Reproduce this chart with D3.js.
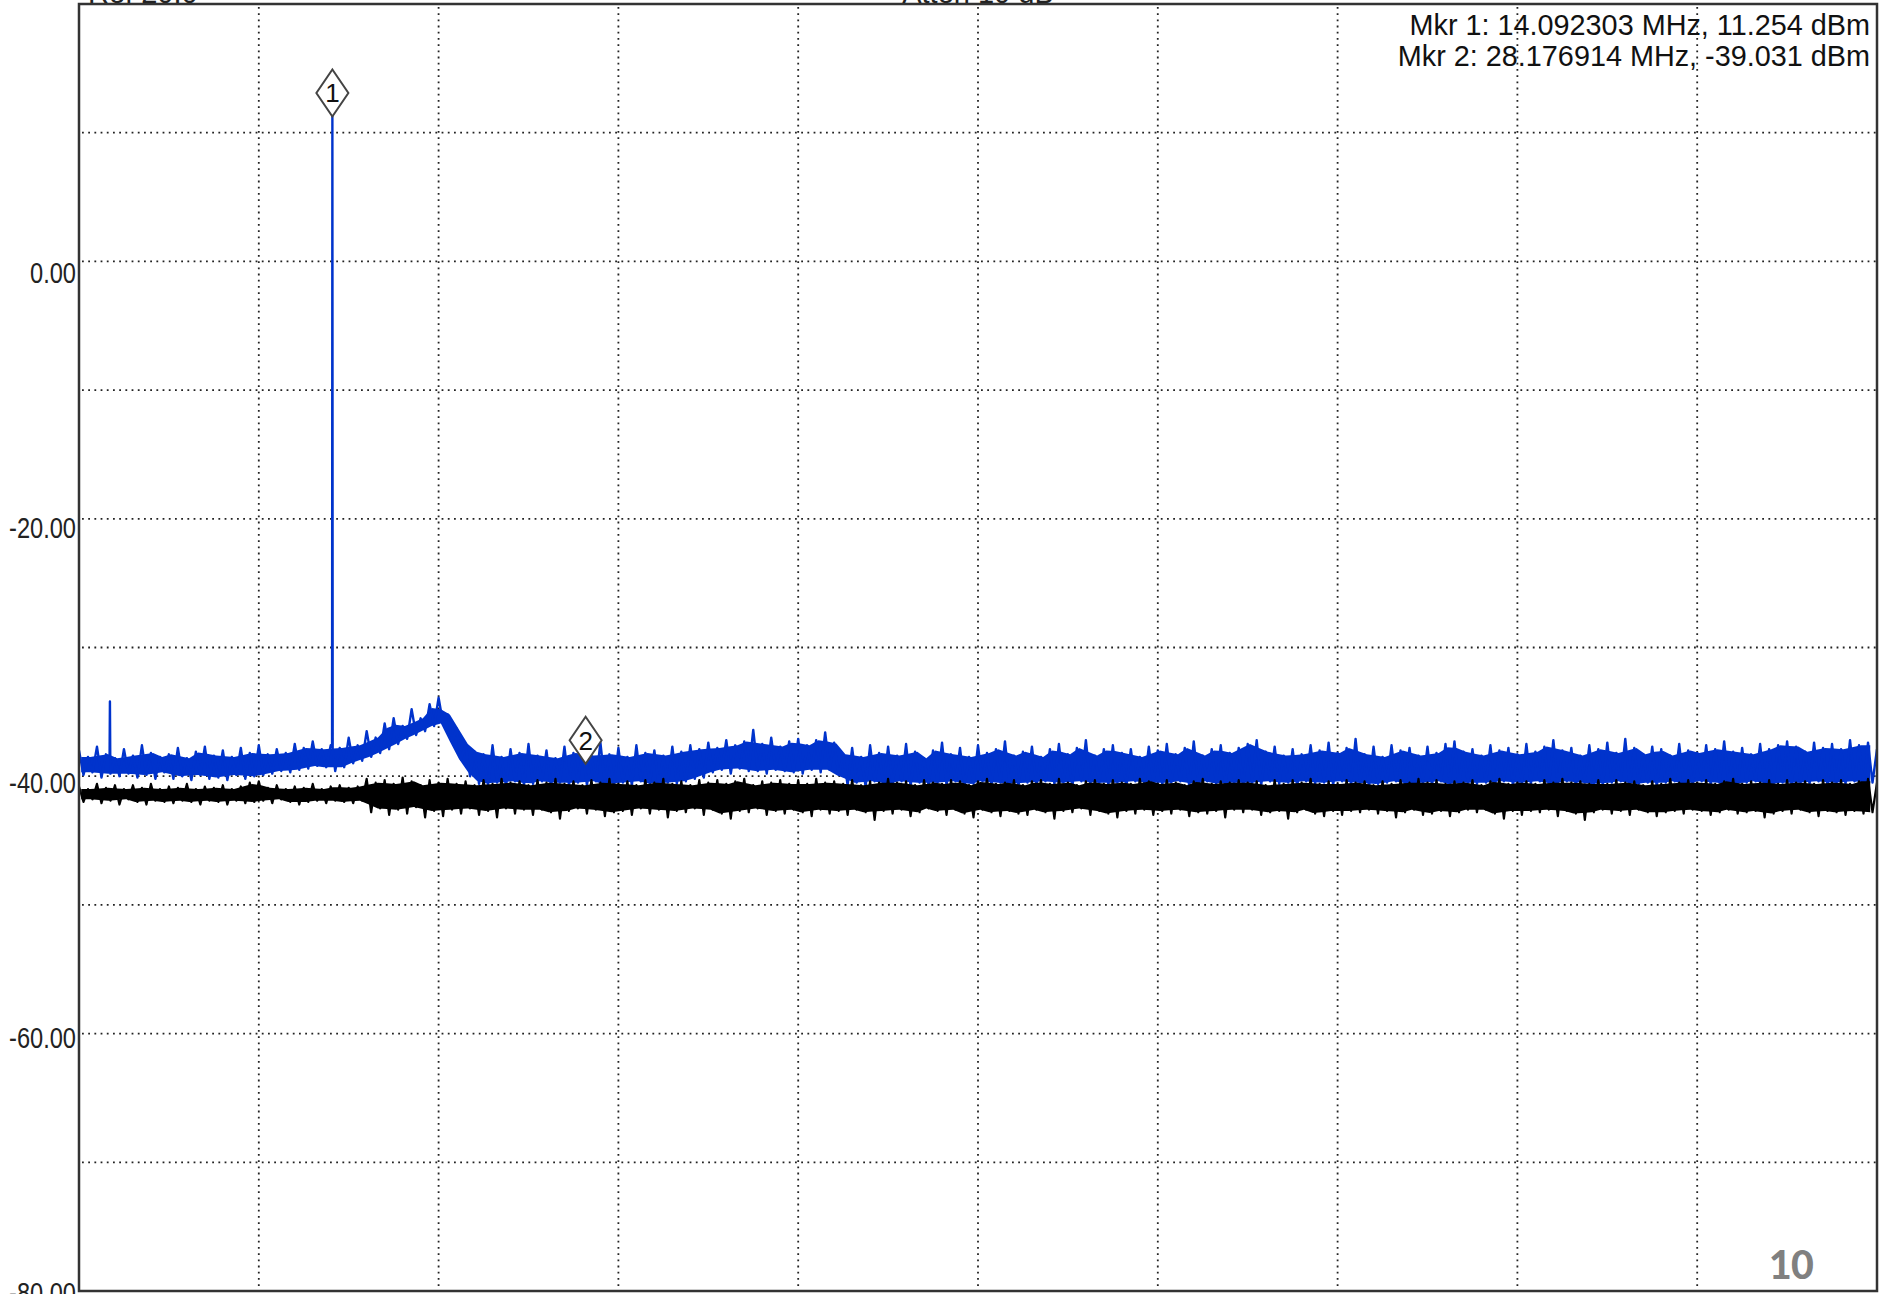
<!DOCTYPE html>
<html><head><meta charset="utf-8">
<script src="https://cdn.jsdelivr.net/npm/d3@7/dist/d3.min.js"></script>
<style>html,body{margin:0;padding:0;background:#fff;}svg{display:block;}</style>
</head><body>
<svg id="chart" width="1889" height="1294"></svg>
<script>
// ---------- data ----------
const freqDomainMHz = [0, 100];
const dbmDomain = [-80, 20];
const freqStepMHz = 0.25;              // sweep sample spacing
const freqGridMHz = [10, 20, 30, 40, 50, 60, 70, 80, 90];
const dbmGrid = [10, 0, -10, -20, -30, -40, -50, -60, -70];
const yTickValues = [0, -20, -40, -60, -80];
const yTickLabels = ["0.00", "-20.00", "-40.00", "-60.00", "-80.00"];
const headerTexts = ["Ref 20.0", "Atten 10 dB"];
const pageNumber = "10";

// blue trace (dBm), one value per 0.25 MHz from 0 to 100 MHz
const blueTrace = [
-38.0,-39.9,-38.5,-39.7,-37.7,-40.1,-38.3,-39.8,-38.6,-40.0,
-37.9,-39.8,-38.4,-40.1,-37.6,-39.9,-38.2,-40.2,-38.5,-39.7,
-38.3,-40.2,-37.8,-40.0,-38.6,-40.3,-38.1,-39.9,-37.7,-40.2,
-38.4,-40.1,-38.0,-40.3,-38.5,-39.9,-37.8,-40.2,-38.2,-40.0,
-37.6,-39.9,-38.3,-39.8,-37.9,-39.6,-38.2,-39.7,-37.5,-39.5,
-37.8,-39.4,-37.3,-39.2,-37.9,-39.3,-37.6,-39.6,-37.8,-39.3,
-37.0,-39.0,-37.6,-38.8,-36.5,-38.5,-37.0,-38.2,-35.9,-37.9,
-35.5,-37.5,-36.1,-37.1,-34.8,-36.8,-35.5,-36.5,-34.4,-36.1,
-33.9,-35.9,-35.2,-37.3,-36.3,-38.7,-37.5,-40.0,-38.1,-40.6,
-38.3,-40.7,-37.6,-40.5,-38.5,-40.8,-37.9,-40.4,-38.2,-40.7,
-37.5,-40.6,-38.4,-40.4,-38.0,-40.8,-38.6,-40.5,-37.7,-40.7,
-38.2,-40.5,-37.9,-40.7,-38.4,-40.4,-37.4,-40.6,-38.3,-40.8,
-37.8,-40.5,-38.5,-40.7,-37.6,-40.4,-38.2,-40.6,-38.0,-40.7,
-38.4,-40.5,-37.7,-40.6,-38.1,-40.4,-37.6,-40.2,-37.9,-40.1,
-37.4,-39.7,-37.8,-39.5,-37.2,-39.8,-37.6,-39.4,-37.3,-39.6,
-36.4,-39.6,-37.5,-39.8,-37.0,-39.5,-37.7,-39.6,-37.3,-39.7,
-37.1,-39.8,-37.6,-39.5,-37.2,-39.7,-36.6,-39.5,-37.4,-39.9,
-38.3,-40.7,-37.8,-40.5,-38.5,-40.8,-37.6,-40.4,-38.2,-40.7,
-37.7,-40.6,-38.4,-40.4,-37.5,-40.8,-38.1,-40.5,-38.6,-40.7,
-38.0,-40.5,-37.4,-40.7,-38.3,-40.4,-37.8,-40.8,-38.5,-40.6,
-37.6,-40.4,-38.2,-40.7,-37.9,-40.5,-37.3,-40.6,-38.4,-40.8,
-38.1,-40.5,-37.7,-40.7,-38.5,-40.4,-37.9,-40.6,-37.5,-40.5,
-38.3,-40.8,-37.8,-40.4,-37.2,-40.6,-38.4,-40.5,-37.9,-40.7,
-37.6,-40.5,-38.2,-40.8,-37.9,-40.4,-38.5,-40.6,-37.7,-40.5,
-38.0,-40.7,-37.5,-40.5,-38.3,-40.4,-37.8,-40.8,-37.3,-40.6,
-38.4,-40.4,-37.9,-40.6,-37.6,-40.7,-38.2,-40.5,-37.8,-40.8,
-37.5,-40.5,-37.2,-40.7,-38.1,-40.4,-37.7,-40.6,-38.4,-40.5,
-37.9,-40.8,-38.3,-40.4,-37.6,-40.6,-38.0,-40.5,-37.4,-40.7,
-38.2,-40.4,-37.8,-40.7,-37.1,-40.5,-38.3,-40.8,-37.7,-40.6,
-38.5,-40.5,-37.6,-40.4,-38.0,-40.7,-37.8,-40.6,-38.4,-40.5,
-37.7,-40.7,-38.2,-40.4,-37.5,-40.6,-37.3,-40.8,-38.1,-40.5,
-37.9,-40.6,-38.4,-40.5,-37.6,-40.8,-38.0,-40.4,-37.8,-40.7,
-38.3,-40.5,-37.5,-40.6,-38.1,-40.4,-37.7,-40.7,-37.2,-40.6,
-38.0,-40.4,-37.8,-40.8,-38.4,-40.5,-37.6,-40.6,-37.9,-40.7,
-37.4,-40.5,-38.2,-40.4,-37.1,-40.7,-37.8,-40.6,-38.3,-40.5,
-37.7,-40.8,-37.9,-40.5,-38.4,-40.4,-37.5,-40.6,-38.0,-40.7,
-38.2,-40.4,-37.6,-40.7,-37.9,-40.5,-37.3,-40.6,-38.1,-40.8,
-37.8,-40.5,-38.3,-40.4,-37.5,-40.7,-37.9,-40.6,-37.6,-40.5,
-37.3,-40.7,-37.7,-40.5,-38.1,-40.6,-37.4,-40.4,-37.8,-40.8,
-37.5,-40.5,-37.9,-40.6,-37.2,-40.4,-37.6,-40.7,-37.4,-40.5,
-37.9
];
// narrow blue spikes [MHz, dBm]
const blueSpikes = [
  [1.70, -38.6], [1.72, -34.2], [1.74, -38.8],
  [14.075, -37.6], [14.092303, 11.254], [14.11, -37.9]
];

// black trace (dBm), one value per 0.25 MHz from 0 to 100 MHz
const blackTrace = [
-40.8,-42.0,-41.0,-41.8,-40.6,-42.1,-40.9,-41.9,-40.7,-42.2,
-41.0,-41.8,-40.7,-42.0,-40.9,-42.2,-40.6,-41.9,-41.0,-42.0,
-40.8,-42.1,-40.9,-41.9,-40.6,-42.0,-41.0,-42.2,-40.8,-41.9,
-40.9,-42.0,-40.7,-42.2,-41.0,-41.9,-40.8,-42.1,-40.5,-42.0,
-40.4,-41.9,-40.9,-42.1,-40.7,-41.8,-41.0,-42.0,-40.8,-42.2,
-40.9,-42.0,-40.6,-41.9,-41.0,-42.1,-40.8,-41.9,-40.7,-42.0,
-40.9,-42.1,-40.8,-41.9,-40.2,-42.8,-40.5,-42.5,-40.3,-43.0,
-40.6,-42.6,-40.1,-42.9,-40.4,-42.4,-40.7,-43.2,-40.3,-42.7,
-40.5,-43.1,-40.2,-42.6,-40.6,-42.9,-40.4,-42.5,-40.7,-43.0,
-40.3,-42.7,-40.6,-43.2,-40.2,-42.5,-40.5,-42.9,-40.4,-42.6,
-40.7,-43.0,-40.3,-42.6,-40.5,-42.8,-40.2,-43.3,-40.6,-42.7,
-40.4,-42.5,-40.7,-42.9,-40.3,-42.6,-40.5,-43.1,-40.2,-42.8,
-40.6,-42.7,-40.4,-43.0,-40.7,-42.5,-40.3,-42.9,-40.5,-42.6,
-40.2,-43.2,-40.6,-42.7,-40.4,-42.8,-40.7,-42.5,-40.3,-43.0,
-40.5,-42.6,-40.3,-42.9,-40.6,-43.3,-40.4,-42.7,-40.2,-42.8,
-40.7,-42.5,-40.4,-43.0,-40.5,-42.7,-40.3,-42.9,-40.6,-42.6,
-40.3,-42.8,-40.6,-43.1,-40.2,-42.6,-40.5,-42.9,-40.4,-42.7,
-40.6,-43.0,-40.3,-42.6,-40.7,-42.8,-40.4,-43.4,-40.5,-42.7,
-40.2,-42.9,-40.5,-42.6,-40.4,-43.1,-40.7,-42.8,-40.3,-42.5,
-40.5,-42.7,-40.6,-43.0,-40.3,-42.6,-40.4,-42.9,-40.7,-43.2,
-40.4,-42.6,-40.2,-42.8,-40.6,-43.1,-40.5,-42.7,-40.3,-42.9,
-40.7,-43.0,-40.4,-42.6,-40.3,-42.8,-40.6,-43.3,-40.2,-42.7,
-40.5,-42.8,-40.7,-42.5,-40.4,-43.0,-40.3,-42.7,-40.6,-42.9,
-40.3,-43.2,-40.5,-42.7,-40.6,-42.9,-40.2,-42.6,-40.4,-43.0,
-40.6,-42.7,-40.3,-42.9,-40.5,-42.6,-40.7,-43.1,-40.4,-42.8,
-40.2,-42.9,-40.6,-42.7,-40.4,-43.2,-40.5,-42.6,-40.3,-42.8,
-40.5,-42.6,-40.4,-43.0,-40.7,-42.8,-40.3,-42.7,-40.6,-43.3,
-40.3,-42.8,-40.5,-42.6,-40.2,-42.9,-40.6,-43.1,-40.4,-42.7,
-40.6,-43.0,-40.3,-42.7,-40.5,-42.8,-40.4,-42.6,-40.7,-42.9,
-40.4,-42.7,-40.6,-43.2,-40.3,-42.8,-40.5,-42.6,-40.2,-43.0,
-40.5,-42.9,-40.3,-42.7,-40.6,-43.1,-40.4,-42.8,-40.5,-42.6,
-40.3,-42.8,-40.7,-42.6,-40.4,-42.9,-40.2,-43.3,-40.6,-42.7,
-40.5,-43.0,-40.4,-42.7,-40.6,-42.8,-40.3,-42.6,-40.5,-43.1,
-40.2,-42.7,-40.5,-42.9,-40.4,-43.4,-40.6,-42.8,-40.3,-42.6,
-40.6,-42.9,-40.3,-42.7,-40.5,-43.0,-40.4,-42.6,-40.7,-42.8,
-40.4,-43.1,-40.6,-42.8,-40.2,-42.7,-40.5,-42.9,-40.3,-42.6,
-40.5,-42.7,-40.3,-43.0,-40.6,-42.8,-40.4,-42.6,-40.2,-42.9,
-40.6,-42.8,-40.4,-42.7,-40.5,-43.2,-40.3,-42.9,-40.6,-42.7,
-40.3,-42.9,-40.5,-42.6,-40.4,-42.8,-40.6,-43.1,-40.3,-42.7,
-40.5,-42.8,-40.3,-43.0,-40.6,-42.7,-40.4,-42.9,-40.2,-42.8,
-40.5
];

const markerIds = [1, 2];
const markerFreqMHz = [14.092303, 28.176914];
const markerDbm = [11.254, -39.031];
const markerReadouts = [
  "Mkr 1: 14.092303 MHz, 11.254 dBm",
  "Mkr 2: 28.176914 MHz, -39.031 dBm"
];

// ---------- layout ----------
const plot = {left: 79, top: 4, right: 1877, bottom: 1291};
const svg = d3.select("#chart");

const x = d3.scaleLinear().domain(freqDomainMHz).range([plot.left, plot.right]);
const y = d3.scaleLinear().domain(dbmDomain).range([plot.bottom, plot.top]);
// the instrument's tick labels sit on a slightly different spacing
const yLab = d3.scaleLinear().domain([-80, 0]).range([1302, 282]);

svg.append("defs").append("clipPath").attr("id", "clip")
  .append("rect").attr("x", plot.left).attr("y", plot.top)
  .attr("width", plot.right - plot.left).attr("height", plot.bottom - plot.top);

// header texts (cut by the top edge of the page)
svg.append("text").attr("x", 88).attr("y", 2.5).text(headerTexts[0])
  .attr("font-family", "Liberation Sans, Arial, sans-serif").attr("font-size", 29).attr("fill", "#222");
svg.append("text").attr("x", 978).attr("y", 2.5).attr("text-anchor", "middle").text(headerTexts[1])
  .attr("font-family", "Liberation Sans, Arial, sans-serif").attr("font-size", 29).attr("fill", "#222");

// grid
const grid = svg.append("g").attr("clip-path", "url(#clip)")
  .attr("stroke", "#222").attr("stroke-width", 1.8).attr("stroke-dasharray", "1.8 4.4");
grid.selectAll("line.v").data(freqGridMHz).join("line").attr("class", "v")
  .attr("x1", d => x(d)).attr("x2", d => x(d)).attr("y1", plot.top + 3).attr("y2", plot.bottom);
grid.selectAll("line.h").data(dbmGrid).join("line").attr("class", "h")
  .attr("y1", d => y(d)).attr("y2", d => y(d)).attr("x1", plot.left + 3).attr("x2", plot.right);

// y labels (narrow face)
const yAxis = d3.axisLeft(yLab).tickValues(yTickValues).tickSize(0)
  .tickFormat((d, i) => yTickLabels[i]);
const ga = svg.append("g").attr("transform", `translate(${plot.left - 3},0)`).call(yAxis);
ga.select(".domain").remove();
ga.selectAll("text").attr("dy", 0).attr("x", 0)
  .attr("transform", "scale(0.82,1)")
  .attr("font-family", "Liberation Sans, Arial, sans-serif")
  .attr("font-size", 28.8).attr("fill", "#222");

// traces
function coreBand(vals) {
  const pairs = d3.range(Math.floor(vals.length / 2)).map(k => {
    const a = vals[2 * k], b = vals[2 * k + 1];
    return {f: (2 * k + 0.5) * freqStepMHz, hi: Math.max(a, b), lo: Math.min(a, b)};
  });
  return pairs.map((p, k) => {
    const nb = [pairs[k - 1], pairs[k + 1]].filter(Boolean);
    let top = Math.min(p.hi, d3.mean(nb, d => d.hi));
    let bot = Math.max(p.lo, d3.mean(nb, d => d.lo));
    if (top < bot) { const m = (top + bot) / 2; top = m; bot = m; }
    return {f: p.f, top, bot};
  });
}
const area = d3.area().x(d => x(d.f)).y0(d => y(d.bot)).y1(d => y(d.top));
const line = d3.line().x(d => x(d[0])).y(d => y(d[1]));

const traces = svg.append("g").attr("clip-path", "url(#clip)");
const blueColor = "#0033cc";
const bluePts = blueTrace.map((v, i) => [i * freqStepMHz, v]).concat(blueSpikes)
  .sort((a, b) => a[0] - b[0]);
traces.append("path").datum(coreBand(blueTrace)).attr("d", area).attr("fill", blueColor);
traces.append("path").datum(bluePts).attr("d", line).attr("fill", "none")
  .attr("stroke", blueColor).attr("stroke-width", 2.4).attr("stroke-linejoin", "round");

const blackPts = blackTrace.map((v, i) => [i * freqStepMHz, v]);
traces.append("path").datum(coreBand(blackTrace)).attr("d", area).attr("fill", "#000");
traces.append("path").datum(blackPts).attr("d", line).attr("fill", "none")
  .attr("stroke", "#000").attr("stroke-width", 2.2).attr("stroke-linejoin", "round");

// frame
svg.append("rect").attr("x", plot.left).attr("y", plot.top)
  .attr("width", plot.right - plot.left).attr("height", plot.bottom - plot.top)
  .attr("fill", "none").attr("stroke", "#333").attr("stroke-width", 2.5);

// markers
const mk = svg.append("g").selectAll("g").data(markerIds).join("g")
  .attr("transform", (d, i) => `translate(${x(markerFreqMHz[i])},${y(markerDbm[i])})`);
mk.append("path").attr("d", "M0,0 L16,-23.5 L0,-47 L-16,-23.5 Z")
  .attr("fill", "#fff").attr("stroke", "#444").attr("stroke-width", 2);
mk.append("text").attr("y", -23.5).attr("dy", "0.36em").attr("text-anchor", "middle")
  .attr("font-family", "Liberation Sans, Arial, sans-serif").attr("font-size", 26)
  .attr("fill", "#111").text(d => d);

// marker readouts
svg.append("g").selectAll("text").data(markerReadouts).join("text")
  .attr("x", 1870).attr("y", (d, i) => 35 + i * 31).attr("text-anchor", "end")
  .attr("font-family", "Liberation Sans, Arial, sans-serif").attr("font-size", 28.8)
  .attr("fill", "#111").text(d => d);

// page number
svg.append("text").attr("x", 1791).attr("y", 1279).attr("text-anchor", "middle")
  .attr("font-family", "Calibri, Carlito, Open Sans, sans-serif").attr("font-weight", "bold")
  .attr("font-size", 45).attr("fill", "#808080").text(pageNumber);
</script>
</body></html>
